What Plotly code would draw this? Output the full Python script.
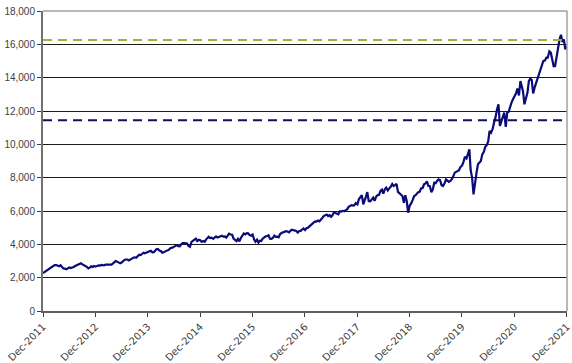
import pandas as pd
import plotly.graph_objects as go

# ---- data ----
start_date = "2011-12-30"
start_value = 2277
first_month = "2012-01"
# three readings per month (around the 10th, the 20th and month end)
monthly_values = [
    # 2012
    [2340, 2390, 2430], [2520, 2580, 2610], [2700, 2760, 2755], [2700, 2680, 2740],
    [2640, 2550, 2540], [2500, 2560, 2615], [2580, 2600, 2640], [2700, 2750, 2770],
    [2820, 2860, 2800], [2770, 2700, 2650], [2560, 2600, 2680], [2640, 2700, 2660],
    # 2013
    [2720, 2740, 2730], [2770, 2750, 2740], [2790, 2790, 2820], [2810, 2780, 2840],
    [2950, 3000, 2960], [2920, 2860, 2910], [3020, 3060, 3090], [3090, 3030, 3070],
    [3140, 3200, 3220], [3190, 3300, 3380], [3360, 3420, 3500], [3460, 3500, 3590],
    # 2014
    [3580, 3610, 3520], [3530, 3640, 3700], [3720, 3630, 3600], [3500, 3520, 3580],
    [3620, 3640, 3740], [3790, 3800, 3850], [3890, 3950, 3890], [3880, 4000, 4080],
    [4080, 4080, 4050], [3900, 3850, 4150], [4200, 4280, 4340], [4200, 4270, 4240],
    # 2015
    [4150, 4200, 4150], [4300, 4420, 4450], [4380, 4400, 4330], [4380, 4480, 4410],
    [4450, 4490, 4510], [4460, 4470, 4400], [4500, 4640, 4590], [4580, 4350, 4270],
    [4200, 4330, 4180], [4380, 4550, 4650], [4600, 4670, 4660], [4550, 4520, 4590],
    # 2016
    [4300, 4150, 4280], [4100, 4220, 4200], [4340, 4420, 4480], [4500, 4540, 4340],
    [4330, 4390, 4520], [4450, 4460, 4420], [4620, 4680, 4730], [4780, 4790, 4770],
    [4720, 4810, 4880], [4850, 4830, 4800], [4700, 4800, 4810], [4900, 4950, 4860],
    # 2017
    [4970, 5000, 5080], [5200, 5280, 5330], [5380, 5360, 5430], [5380, 5460, 5580],
    [5700, 5750, 5790], [5700, 5750, 5650], [5740, 5920, 5870], [5850, 5800, 5990],
    [5970, 6010, 5980], [6050, 6100, 6250], [6320, 6350, 6330], [6350, 6470, 6400],
    # 2018
    [6700, 6850, 6950], [6400, 6750, 6850], [7130, 6600, 6580], [6700, 6800, 6610],
    [6850, 6950, 6970], [7200, 7280, 7040], [7300, 7400, 7230], [7360, 7450, 7620],
    [7500, 7550, 7630], [7150, 7050, 6960], [6900, 6500, 6950], [6600, 5900, 6330],
    # 2019
    [6450, 6650, 6900], [6950, 7050, 7130], [7150, 7350, 7380], [7600, 7650, 7780],
    [7500, 7500, 7130], [7300, 7700, 7670], [7800, 7900, 7850], [7550, 7500, 7660],
    [7900, 7850, 7750], [7800, 7900, 8080], [8300, 8350, 8410], [8450, 8650, 8730],
    # 2020
    [8950, 9250, 9150], [9500, 9700, 8460], [8000, 7000, 7810], [8300, 8800, 8890],
    [9000, 9400, 9550], [9850, 9950, 10160], [10800, 10700, 10910], [11300, 11600, 12110],
    [12400, 11100, 11420], [11650, 11900, 11050], [11900, 11950, 12270], [12500, 12700, 12890],
    # 2021
    [13050, 13350, 12930], [13800, 13500, 13190], [12400, 12700, 13090], [13800, 13950, 13860],
    [13050, 13400, 13690], [13950, 14250, 14550], [14800, 15000, 15030], [15200, 15200, 15580],
    [15500, 15100, 14690], [14700, 15300, 15850], [16300, 16570, 16140], [16300, 15700, 15900],
]
level_green = 16260
level_navy = 11450
tick_years = list(range(2011, 2022))
tick_labels = [f"Dec-{y}" for y in tick_years]
y_ticks = list(range(0, 18001, 2000))

# ---- build series ----
dates = [pd.Timestamp(start_date)]
values = [start_value]
month_starts = pd.date_range(first_month + "-01", periods=len(monthly_values), freq="MS")
for ms, vals in zip(month_starts, monthly_values):
    me = ms + pd.offsets.MonthEnd(0)
    n = len(vals)
    for i, v in enumerate(vals):
        if i == n - 1:
            d = me
        else:
            d = ms + pd.Timedelta(days=round((i + 1) * 30 / n) - 1)
        dates.append(d)
        values.append(v)

x0 = pd.Timestamp(start_date)
x1 = pd.Timestamp("2022-01-01")
tick_vals = [pd.Timestamp(f"{y}-12-30") for y in tick_years]
tick_vals[-1] = pd.Timestamp("2021-12-31 12:00")

fig = go.Figure()
fig.add_trace(go.Scatter(x=dates, y=values, mode="lines",
                         line=dict(color="#0a0a78", width=2.2), showlegend=False))
fig.add_trace(go.Scatter(x=[x0, x1], y=[level_green, level_green], mode="lines",
                         line=dict(color="#9bb33c", width=2, dash="9px,6px"), showlegend=False))
fig.add_trace(go.Scatter(x=[x0, x1], y=[level_navy, level_navy], mode="lines",
                         line=dict(color="#101060", width=2, dash="9px,6px"), showlegend=False))

fig.update_layout(
    width=572, height=363,
    margin=dict(l=43, r=5, t=11, b=52),
    paper_bgcolor="white", plot_bgcolor="white",
    font=dict(family="Liberation Sans, Arial, sans-serif", size=10, color="#404040"),
    xaxis=dict(
        type="date", range=[x0, x1], automargin=False,
        tickvals=tick_vals, ticktext=tick_labels, tickangle=-45,
        showgrid=False, zeroline=False,
        showline=True, linecolor="#606060", linewidth=2,
        ticks="outside", ticklen=4, tickcolor="#404040", tickwidth=1,
        tickfont=dict(family="DejaVu Sans", size=10, color="#404040"),
    ),
    yaxis=dict(
        range=[0, 18000], tickvals=y_ticks, tickformat=",d", automargin=False,
        showgrid=True, gridcolor="#1a1a1a", gridwidth=1,
        zeroline=False,
        showline=True, linecolor="#707070", linewidth=2,
        ticks="outside", ticklen=4, tickcolor="#404040", tickwidth=1,
        tickfont=dict(size=10, color="#404040"),
    ),
    shapes=[
        dict(type="line", xref="paper", yref="paper", x0=0, x1=1, y0=1, y1=1,
             line=dict(color="#a0a0a0", width=1.5), layer="above"),
        dict(type="line", xref="paper", yref="paper", x0=1, x1=1, y0=0, y1=1,
             line=dict(color="#a0a0a0", width=1.5), layer="above"),
    ],
)

fig.write_html("out.html")
